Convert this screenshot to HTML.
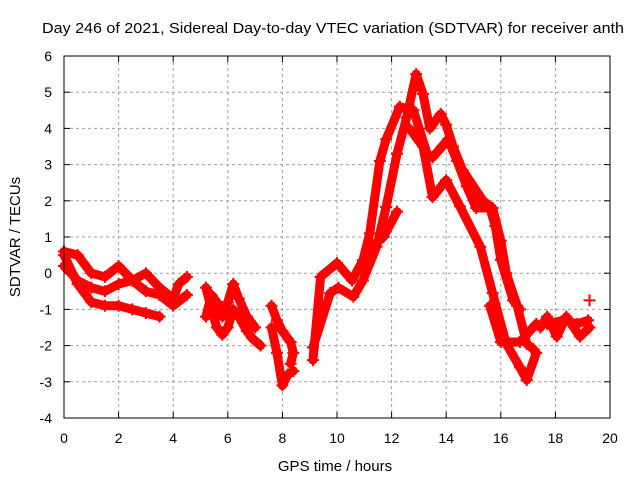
<!DOCTYPE html>
<html><head><meta charset="utf-8"><style>
body{margin:0;background:#fff}
svg{display:block;font-family:"Liberation Sans",sans-serif}
</style></head><body>
<svg id="chart" width="640" height="480">
<text x="42" y="33" font-size="15" textLength="582" lengthAdjust="spacingAndGlyphs">Day 246 of 2021, Sidereal Day-to-day VTEC variation (SDTVAR) for receiver anth</text>
<text transform="translate(20,237) rotate(-90)" text-anchor="middle" font-size="15">SDTVAR / TECUs</text>
<text x="335" y="471" text-anchor="middle" font-size="15">GPS time / hours</text>
<g id="grid"></g><g id="ticks"></g><g id="series"></g>
<rect x="64" y="56" width="546" height="362" fill="none" stroke="#000" stroke-width="1"/>
</svg>
<script>
const xTicks=[0,2,4,6,8,10,12,14,16,18,20];
const yTicks=[-4,-3,-2,-1,0,1,2,3,4,5,6];
const tA=[0,0.5,1,1.5,2,2.5,3,3.5,4,4.2,4.5];
const vA=[0.6,0.5,0,-0.1,0.2,-0.2,0,-0.4,-0.7,-0.3,-0.1];
const tB=[0,0.5,1,1.5,2,2.5,3,3.5,4,4.5];
const vB=[0.2,-0.2,-0.4,-0.5,-0.3,-0.2,-0.5,-0.6,-0.9,-0.6];
const tC=[0,0.5,1,1.5,2,2.5,3,3.5];
const vC=[0.5,-0.3,-0.8,-0.9,-0.9,-1.0,-1.1,-1.2];
const tD=[5.2,5.4,5.6,5.8,6,6.2,6.4,6.7,6.9,7.2];
const vD=[-0.4,-1,-1.5,-1.7,-1.5,-1,-1.2,-1.6,-1.8,-2];
const tE=[5.2,5.4,5.6,5.8,6,6.2,6.4,6.7,7];
const vE=[-1.2,-0.6,-0.8,-1.2,-0.8,-0.3,-0.7,-1.2,-1.5];
const tF=[7.6,7.8,8,8.2,8.4];
const vF=[-1.5,-2.2,-3.1,-2.8,-2.7];
const tF2=[7.6,7.8,8,8.3,8.4,8.3];
const vF2=[-0.9,-1.3,-1.6,-1.9,-2.2,-2.5];
const tG=[9.12,9.4,10.0,10.55,10.95,11.2,11.57,11.8,12.3,12.8,13.3,13.5,13.85,14.07,14.4,14.75,15.1,15.6,15.8,16.0,16.45,16.7];
const vG=[-2.4,-0.1,0.28,-0.2,0.36,1.1,3.1,3.7,4.6,4.5,3.3,3.2,3.5,3.7,3.1,2.4,1.8,1.8,1.3,0.37,-0.75,-1.0];
const tH=[9.12,9.75,10.05,10.6,10.95,11.45,11.8,12.2,12.55,12.9,13.15,13.4,13.8,14.0,14.25,14.6,15.35,15.7,16.0,16.2,16.6,16.95,17.2];
const vH=[-2.05,-0.55,-0.4,-0.65,-0.2,0.73,1.83,3.3,4.3,5.5,4.95,4.0,4.4,4.1,3.5,2.85,2.0,1.8,0.9,0,-0.9,-1.95,-2.1];
const tI=[12.65,13.15,13.5,14.0,14.5,15.25,15.7,16.2,16.7,16.95,17.3];
const vI=[4.0,3.5,2.1,2.57,1.85,0.73,-0.55,-1.95,-2.6,-2.95,-2.2];
const tJ=[11.2,11.7,12.2];
const vJ=[0.7,1.0,1.7];
const tL=[15.6,16.0,16.7,17.3];
const vL=[-0.9,-1.9,-1.9,-1.4];
const tK=[17.45,17.7,18.05,18.4,18.9,19.25];
const vK=[-1.5,-1.2,-1.75,-1.2,-1.75,-1.5];
const tK2=[17.7,18.3,18.8,19.2];
const vK2=[-1.4,-1.3,-1.4,-1.3];
const tP=[19.25];
const vP=[-0.75];
const series=[[tA,vA],[tB,vB],[tC,vC],[tD,vD],[tE,vE],[tF,vF],[tF2,vF2],[tG,vG],[tH,vH],[tI,vI],[tJ,vJ],[tL,vL],[tK,vK],[tK2,vK2],[tP,vP]];
const X=h=>64+h*27.3, Y=v=>56+(6-v)*36.2;
const NS="http://www.w3.org/2000/svg";
const g=document.getElementById('grid'),tk=document.getElementById('ticks'),sg=document.getElementById('series');
function mk(tag,at,p){const e=document.createElementNS(NS,tag);for(const k in at)e.setAttribute(k,at[k]);p.appendChild(e);return e;}
xTicks.forEach(t=>{const x=X(t);
 if(t>0&&t<20){const l=mk('line',{x1:x,x2:x,y1:56,y2:418,stroke:'#a0a0a0','stroke-dasharray':'3,3'},g);
 
 }
 mk('line',{x1:x,x2:x,y1:418,y2:412,stroke:'#000'},tk);mk('line',{x1:x,x2:x,y1:56,y2:62,stroke:'#000'},tk);
 const tx=mk('text',{x:x,y:443,'text-anchor':'middle','font-size':14},tk);tx.textContent=t;
 
 });
yTicks.forEach(t=>{const y=Y(t);
 if(t>-4&&t<6){const l=mk('line',{x1:64,x2:610,y1:y,y2:y,stroke:'#a0a0a0','stroke-dasharray':'3,3'},g);
 
 }
 mk('line',{x1:64,x2:70,y1:y,y2:y,stroke:'#000'},tk);mk('line',{x1:610,x2:604,y1:y,y2:y,stroke:'#000'},tk);
 const tx=mk('text',{x:52,y:y+5,'text-anchor':'end','font-size':14},tk);tx.textContent=t;
 
 });
series.forEach(([ts,vs],i)=>{
 const pts=ts.map((t,j)=>X(t)+','+Y(vs[j])).join(' ');
 const pl=mk('polyline',{points:pts,fill:'none',stroke:'#f00','stroke-width':9,'stroke-linejoin':'round','stroke-linecap':'round'},sg);
 
 
 ts.forEach((t,j)=>{const x=X(t),y=Y(vs[j]);
  const m=mk('path',{d:`M${x-6},${y}H${x+6}M${x},${y-6}V${y+6}`,stroke:'#f00','stroke-width':2},sg);
  
  });
});
</script>
</body></html>
